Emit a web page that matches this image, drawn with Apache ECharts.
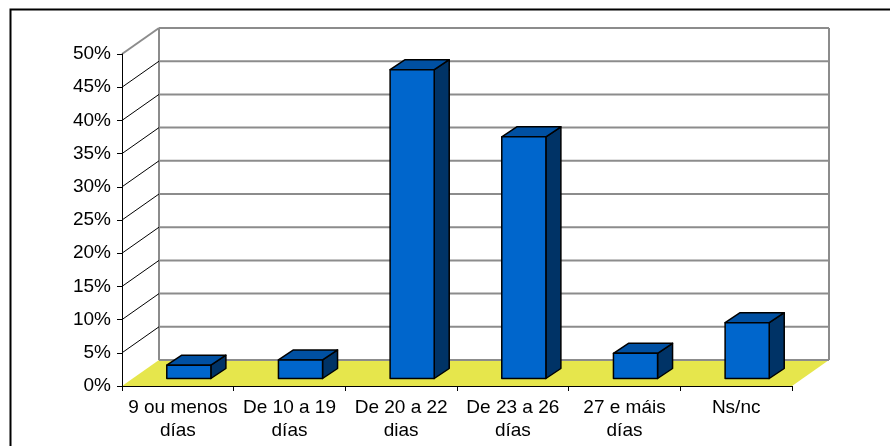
<!DOCTYPE html>
<html>
<head>
<meta charset="utf-8">
<script src="https://cdn.jsdelivr.net/npm/echarts@6/dist/echarts.min.js"></script>
<style>
  html, body { margin: 0; padding: 0; background: #fff; }
  #chart { width: 890px; height: 446px; }
</style>
</head>
<body>
<div id="chart"></div>
<script>
const categories = ['9 ou menos\ndías', 'De 10 a 19\ndías', 'De 20 a 22\ndias', 'De 23 a 26\ndías', '27 e máis\ndías', 'Ns/nc']
const percents = [2.0, 2.8, 46.5, 36.4, 3.8, 8.4]
const yTicks = [0, 5, 10, 15, 20, 25, 30, 35, 40, 45, 50]

// pseudo-3d offsets (pixels)
const WALL = [37, -26]
const BAR_SHIFT = [11, -7.5]
const BAR_DEPTH = [15, -10]

const font = '"Liberation Sans", Arial, sans-serif'

function renderWall(params, api) {
  const cs = params.coordSys
  const v = api.value(1)
  const y = api.coord([0, v])[1]
  const left = cs.x, right = cs.x + cs.width
  const children = []
  if (v === 0) {
    const yTop = api.coord([0, 50])[1]
    children.push({
      type: 'polygon',
      shape: { points: [[left, y], [right, y], [right + WALL[0], y + WALL[1]], [left + WALL[0], y + WALL[1]]] },
      style: { fill: '#e6e64c' },
    })
    children.push({
      type: 'line',
      shape: { x1: left + WALL[0], y1: y + WALL[1], x2: left + WALL[0], y2: yTop + WALL[1] },
      style: { stroke: '#8c8c8c', lineWidth: 2 },
    })
    children.push({
      type: 'line',
      shape: { x1: right + WALL[0], y1: y + WALL[1], x2: right + WALL[0], y2: yTop + WALL[1] },
      style: { stroke: '#8c8c8c', lineWidth: 2 },
    })
  } else {
    children.push({
      type: 'line',
      shape: { x1: left, y1: y, x2: left + WALL[0], y2: y + WALL[1] },
      style: { stroke: v === 50 ? '#8c8c8c' : '#000', lineWidth: v === 50 ? 2 : 1 },
    })
  }
  children.push({
    type: 'line',
    shape: { x1: left + WALL[0], y1: y + WALL[1], x2: right + WALL[0], y2: y + WALL[1] },
    style: { stroke: '#8c8c8c', lineWidth: 2 },
  })
  return { type: 'group', children }
}

function renderBar(params, api) {
  const cat = api.value(0)
  const top = api.coord([cat, api.value(1)])
  const base = api.coord([cat, 0])
  const w = api.size([1, 0])[0] * 0.395
  const x1 = top[0] - w / 2 + BAR_SHIFT[0]
  const x2 = x1 + w
  const yt = top[1] + BAR_SHIFT[1]
  const yb = base[1] + BAR_SHIFT[1]
  const dx = BAR_DEPTH[0], dy = BAR_DEPTH[1]
  const edge = { stroke: '#000', lineWidth: 1.5, lineJoin: 'round' }
  return {
    type: 'group',
    children: [
      { type: 'polygon', shape: { points: [[x2, yt], [x2 + dx, yt + dy], [x2 + dx, yb + dy], [x2, yb]] },
        style: Object.assign({ fill: '#003366' }, edge) },
      { type: 'polygon', shape: { points: [[x1, yt], [x1 + dx, yt + dy], [x2 + dx, yt + dy], [x2, yt]] },
        style: Object.assign({ fill: '#0050a2' }, edge) },
      { type: 'rect', shape: { x: x1, y: yt, width: w, height: yb - yt },
        style: Object.assign({ fill: '#0066cc' }, edge) },
    ],
  }
}

const chart = echarts.init(document.getElementById('chart'))
const option = {
  animation: false,
  backgroundColor: '#fff',
  graphic: [
    { type: 'rect', shape: { x: 10.5, y: 9.5, width: 900, height: 500 },
      style: { fill: 'none', stroke: '#000', lineWidth: 2 }, z: 100 },
  ],
  grid: { left: 122, right: 98, top: 54, bottom: 60 },
  xAxis: {
    type: 'category',
    data: categories,
    boundaryGap: true,
    axisLine: { show: true, lineStyle: { color: '#000', width: 1 } },
    axisTick: { show: true, length: 5, lineStyle: { color: '#000' } },
    axisLabel: { interval: 0, color: '#000', fontSize: 19, lineHeight: 23, margin: 10, fontFamily: font },
    splitLine: { show: false },
    z: 10,
  },
  yAxis: {
    type: 'value',
    min: 0,
    max: 50,
    interval: 5,
    axisLine: { show: true, lineStyle: { color: '#000', width: 1 } },
    axisTick: { show: true, length: 5, lineStyle: { color: '#000' } },
    axisLabel: { formatter: '{value}%', color: '#000', fontSize: 19, margin: 11, fontFamily: font },
    splitLine: { show: false },
    z: 10,
  },
  series: [
    {
      type: 'custom',
      renderItem: renderWall,
      data: yTicks.map(v => [0, v]),
      silent: true,
      z: 1,
    },
    {
      type: 'custom',
      renderItem: renderBar,
      data: percents.map((v, i) => [i, v]),
      z: 5,
    },
  ],
}
option && chart.setOption(option)
</script>
</body>
</html>
